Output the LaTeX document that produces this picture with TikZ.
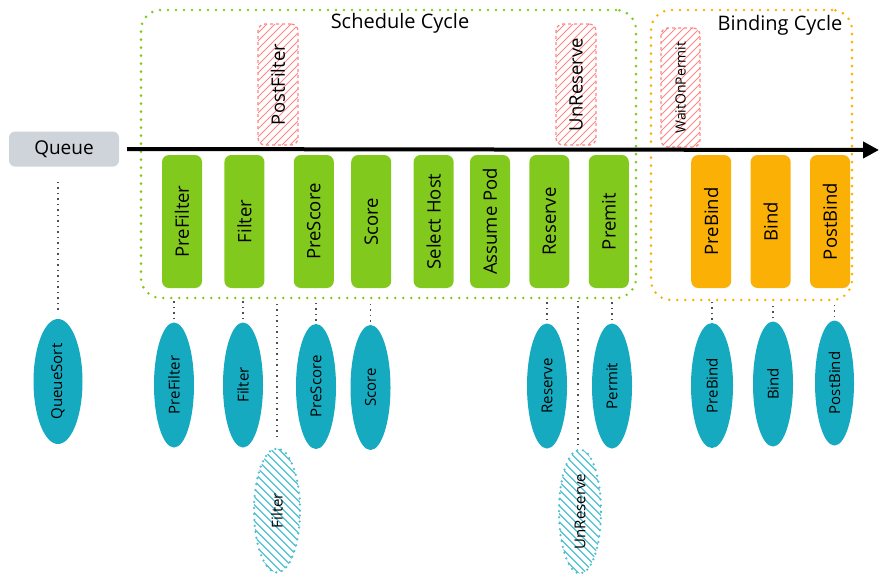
\documentclass[tikz,border=0pt]{standalone}
\usepackage{fontspec}
\setmainfont{Open Sans}
\usepackage{tikz}
\usetikzlibrary{arrows.meta}
\usetikzlibrary{positioning}
\usetikzlibrary{shapes.geometric}

\definecolor{stagegreen}{HTML}{82C91E}
\definecolor{bindorange}{HTML}{FAB005}
\definecolor{pluginblue}{HTML}{15AABF}
\definecolor{queuegrey}{HTML}{CED4DA}
\definecolor{skipred}{HTML}{FF8787}
\definecolor{linkgrey}{HTML}{495057}

\newcommand{\vlabel}[1]{\rotatebox{90}{#1}}

\tikzset{
	stage/.style={rectangle,rounded corners=7pt,fill=stagegreen,minimum width=40pt,minimum height=133pt,inner sep=0pt,font=\fontsize{18.5}{18.5}\selectfont},
	bindstage/.style={stage,fill=bindorange},
	skipbox/.style={rectangle,rounded corners=7pt,draw=skipred,line width=1.3pt,dash pattern=on 3pt off 3pt,minimum width=40pt,minimum height=121pt,inner sep=0pt,font=\fontsize{18.5}{18.5}\selectfont,
		path picture={\foreach \k in {-17,...,6}
			\draw [skipred,line width=1pt,solid] ([xshift=\k*8pt]path picture bounding box.south west) -- ++(140,-140);}},
	plugin/.style={ellipse,fill=pluginblue,minimum width=40pt,minimum height=125pt,inner sep=0pt,font=\fontsize{15}{15}\selectfont},
	skipplugin/.style={ellipse,draw=pluginblue!75,line width=2.5pt,dash pattern=on 0pt off 6pt,line cap=round,minimum width=46pt,minimum height=124pt,inner sep=0pt,font=\fontsize{15}{15}\selectfont,
		path picture={\foreach \k in {-17,...,6}
			\draw [pluginblue!75,line width=1.2pt,solid] ([xshift=\k*8pt]path picture bounding box.north west) -- ++(140,140);}},
	frame/.style={rectangle,rounded corners=20pt,line width=2.8pt,dash pattern=on 0pt off 8pt,line cap=round,inner sep=0pt},
	link/.style={linkgrey,line width=1.4pt,dash pattern=on 1.5pt off 4pt},
	timeline/.style={line width=4pt,-{Triangle[length=16pt,width=16pt]}},
}

\begin{document}
\begin{tikzpicture}[x=1pt,y=-1pt]
		\useasboundingbox (0,0) rectangle (885,582);

		% cycles
		\node [frame,draw=stagegreen,minimum width=495pt,minimum height=288pt] (schedule) at (388.5,154) {};
		\node [frame,draw=bindorange,minimum width=201pt,minimum height=290pt] (binding) at (751.5,155) {};
		\node [font=\fontsize{20}{20}\selectfont] (schedtitle) at (400,23) {Schedule Cycle};
		\node [font=\fontsize{20}{20}\selectfont] (bindtitle) at (780,25) {Binding Cycle};

		% extension points above the line
		\node [skipbox] (postfilter) at (278,84.5) {\vlabel{PostFilter}};
		\node [skipbox] (unreserve) at (576,84.5) {\vlabel{UnReserve}};
		\node [skipbox,minimum width=39pt,minimum height=119pt,font=\fontsize{14}{14}\selectfont] (waitonpermit) at (680.5,87.5) {\vlabel{WaitOnPermit}};

		% queue and timeline
		\node [rectangle,rounded corners=6pt,fill=queuegrey,minimum width=110pt,minimum height=35pt,font=\fontsize{19}{19}\selectfont] (queue) at (64,149) {Queue};
		\coordinate (tip) at (879,150);
		\draw [timeline,shorten <=8pt] (queue.east) -- (tip);

		% stages
		\node [stage] (prefilter) at (182,221.5) {\vlabel{PreFilter}};
		\node [stage,right=22pt of prefilter] (filter) {\vlabel{Filter}};
		\node [stage,right=29pt of filter] (prescore) {\vlabel{PreScore}};
		\node [stage,right=17pt of prescore] (score) {\vlabel{Score}};
		\node [stage,right=22pt of score] (selecthost) {\vlabel{Select Host}};
		\node [stage,right=16pt of selecthost] (assumepod) {\vlabel{Assume Pod}};
		\node [stage,right=19pt of assumepod] (reserve) {\vlabel{Reserve}};
		\node [stage,right=19pt of reserve] (premit) {\vlabel{Premit}};
		\node [bindstage,right=62pt of premit] (prebind) {\vlabel{PreBind}};
		\node [bindstage,right=19pt of prebind] (bind) {\vlabel{Bind}};
		\node [bindstage,right=19pt of bind] (postbind) {\vlabel{PostBind}};

		% plugins
		\node [plugin,minimum width=49pt] (queuesort) at (58,381.5) {\vlabel{QueueSort}};
		\node [plugin] (prefilterplug) at (174,385) {\vlabel{PreFilter}};
		\node [plugin] (filterplug) at (243,385) {\vlabel{Filter}};
		\node [plugin] (prescoreplug) at (316,386.5) {\vlabel{PreScore}};
		\node [plugin] (scoreplug) at (370.5,387.5) {\vlabel{Score}};
		\node [plugin] (reserveplug) at (547,386) {\vlabel{Reserve}};
		\node [plugin] (permitplug) at (612,386) {\vlabel{Permit}};
		\node [plugin,minimum width=42pt] (prebindplug) at (712,385.5) {\vlabel{PreBind}};
		\node [plugin] (bindplug) at (773,384) {\vlabel{Bind}};
		\node [plugin,minimum width=39pt] (postbindplug) at (834.5,383) {\vlabel{PostBind}};
		\node [skipplugin] (postfilterplug) at (277,510.5) {\vlabel{Filter}};
		\node [skipplugin,minimum width=42pt] (unreserveplug) at (580,511.5) {\vlabel{UnReserve}};

		% links
		\draw [link,shorten <=9pt,shorten >=12pt] (queuesort.north) -- (queuesort.north |- queue.south);
		\foreach \plug in {prefilterplug,filterplug,prescoreplug,scoreplug,reserveplug,permitplug}
			\draw [link,shorten <=3pt,shorten >=1pt] (\plug.north) -- (\plug.north |- schedule.south);
		\foreach \plug in {prebindplug,bindplug,postbindplug}
			\draw [link,shorten <=3pt,shorten >=1pt] (\plug.north) -- (\plug.north |- binding.south);
		\draw [link,shorten <=10pt,shorten >=1pt] (postfilterplug.north) -- (postfilterplug.north |- schedule.south);
		\draw [link,shorten <=3pt,shorten >=1pt] ([xshift=-2pt]unreserveplug.north) -- ([xshift=-2pt]unreserveplug.north |- schedule.south);
	\end{tikzpicture}
\end{document}
